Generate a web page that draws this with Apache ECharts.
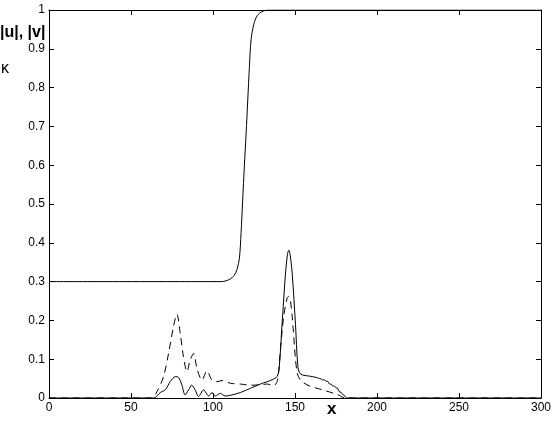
<!DOCTYPE html>
<html lang="en">
<head>
    <meta charset="UTF-8">
    <title>kappa, |u|, |v|</title>
    <script src="https://cdn.jsdelivr.net/npm/echarts@6/dist/echarts.min.js"></script>
    <style>
        html, body { margin: 0; padding: 0; background: #fff; }
        #chart { width: 554px; height: 421px; }
    </style>
</head>
<body>
    <div id="chart"></div>
    <script>
    // 数据：κ（上方实线），|u|（下方实线），|v|（虚线）
    const kappaX = [0, 100, 105, 108, 110.6, 112.8, 114.7, 116.1, 117.1, 118.1, 119.1, 120.2, 121.2, 122.2, 123.2, 124.8, 126.9, 129.9, 134, 300];
    const kappaY = [0.3, 0.3, 0.3, 0.302, 0.307, 0.315, 0.332, 0.36, 0.424, 0.51, 0.596, 0.682, 0.768, 0.854, 0.923, 0.962, 0.985, 0.996, 1.0, 1.0];

    const uX = [0, 64, 67.8, 70.9, 73.9, 77, 79, 81, 83, 85.1, 87.1, 89.2, 91.2, 94.3, 96.3, 97.3, 99.4, 101.4, 104.5, 107.5, 110.6, 116.7, 122.8, 128.9, 133, 136, 139, 140.3, 142.1, 144.2, 145.4, 146.2, 147, 148.3, 150.3, 151.7, 153.3, 159.4, 163, 165, 166, 167, 168, 169, 170, 171, 172, 173, 174, 175, 176, 177, 178, 179, 180, 181.5, 300];
    const uY = [0, 0, 0.014, 0.021, 0.042, 0.055, 0.053, 0.034, 0.008, 0.021, 0.033, 0.02, 0.004, 0.021, 0.01, 0.005, 0.014, 0.005, 0.012, 0.005, 0.007, 0.014, 0.025, 0.036, 0.042, 0.047, 0.055, 0.075, 0.19, 0.32, 0.37, 0.381, 0.37, 0.32, 0.19, 0.085, 0.062, 0.056, 0.053, 0.05, 0.049, 0.046, 0.047, 0.043, 0.043, 0.036, 0.036, 0.031, 0.031, 0.026, 0.025, 0.016, 0.015, 0.009, 0.007, 0, 0];

    const vX = [0, 62.5, 65.8, 69.8, 72.9, 75.9, 78, 80, 82, 84.1, 86.1, 88.2, 90.2, 93.3, 96.3, 99.4, 102.4, 105.5, 110.6, 116.7, 122.8, 128.9, 133, 137, 139.3, 141.1, 143.1, 145.2, 146.2, 147.2, 148.3, 150.3, 151.5, 153, 155, 159.4, 163.5, 167.6, 173.7, 176, 180.5, 300];
    const vY = [0, 0, 0.016, 0.055, 0.115, 0.184, 0.216, 0.167, 0.106, 0.068, 0.098, 0.115, 0.076, 0.046, 0.07, 0.046, 0.042, 0.045, 0.038, 0.036, 0.033, 0.034, 0.036, 0.032, 0.045, 0.124, 0.21, 0.257, 0.262, 0.25, 0.21, 0.1, 0.062, 0.048, 0.04, 0.03, 0.025, 0.02, 0.012, 0.009, 0, 0];

    const xTicks = [0, 50, 100, 150, 200, 250, 300];
    const yTicks = [0, 0.1, 0.2, 0.3, 0.4, 0.5, 0.6, 0.7, 0.8, 0.9, 1];

    function pairs(xs, ys) {
        return xs.map((x, i) => [x, ys[i]]);
    }

    const font = "'Liberation Sans', Arial, sans-serif";
    const lineCol = '#000';

    function xAxisDef(pos, showLabel) {
        return {
            type: 'value', position: pos,
            min: xTicks[0], max: xTicks[xTicks.length - 1], interval: 50,
            axisLine: { show: true, onZero: false, lineStyle: { color: lineCol, width: 1 } },
            axisTick: { show: true, inside: true, length: 5, lineStyle: { color: lineCol } },
            axisLabel: { show: showLabel, color: '#000', fontSize: 12, fontFamily: font, margin: 4 },
            splitLine: { show: false }
        };
    }
    function yAxisDef(pos, showLabel) {
        return {
            type: 'value', position: pos,
            min: yTicks[0], max: yTicks[yTicks.length - 1], interval: 0.1,
            axisLine: { show: true, onZero: false, lineStyle: { color: lineCol, width: 1 } },
            axisTick: { show: true, inside: true, length: 5, lineStyle: { color: lineCol } },
            axisLabel: {
                show: showLabel, color: '#000', fontSize: 12, fontFamily: font, margin: 4,
                formatter: v => String(+v.toFixed(1))
            },
            splitLine: { show: false }
        };
    }

    const chart = echarts.init(document.getElementById('chart'));
    chart.setOption({
        animation: false,
        backgroundColor: '#fff',
        grid: { left: 49, right: 13, top: 10, bottom: 23, containLabel: false },
        xAxis: [xAxisDef('bottom', true), xAxisDef('top', false)],
        yAxis: [yAxisDef('left', true), yAxisDef('right', false)],
        graphic: [
            { type: 'text', left: 0, top: 25, style: { text: '|u|, |v|', font: 'bold 16px ' + font, fill: '#000' } },
            { type: 'text', left: 1, top: 61, style: { text: 'κ', font: '16px ' + font, fill: '#000' } },
            { type: 'text', left: 327, top: 401, style: { text: 'x', font: 'bold 17px ' + font, fill: '#000' } }
        ],
        series: [
            {
                name: 'kappa', type: 'line', data: pairs(kappaX, kappaY),
                showSymbol: false, smooth: 0.3,
                lineStyle: { color: '#000', width: 1 }
            },
            {
                name: '|u|', type: 'line', data: pairs(uX, uY),
                showSymbol: false, smooth: 0.3,
                lineStyle: { color: '#000', width: 1 }
            },
            {
                name: '|v|', type: 'line', data: pairs(vX, vY),
                showSymbol: false, smooth: 0.3,
                lineStyle: { color: '#000', width: 1, type: [7, 5] }
            }
        ]
    });
    </script>
</body>
</html>
